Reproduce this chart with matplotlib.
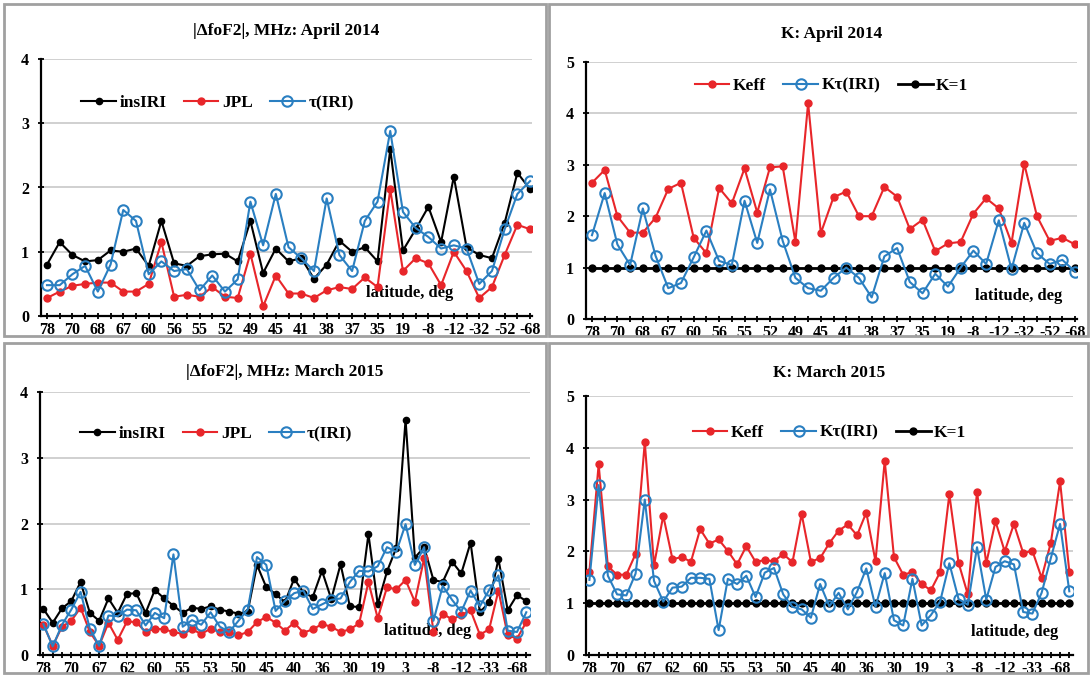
import matplotlib
matplotlib.use("Agg")
import matplotlib.pyplot as plt
from matplotlib.patches import Rectangle

W, H = 1091, 676
SERIF = ['Liberation Serif', 'DejaVu Serif']

top_labels = ['78', '70', '68', '67', '60', '56', '55', '52', '49', '45', '41', '38', '37', '35', '19', '-8', '-12', '-32', '-52', '-68']
bot_labels = ['78', '70', '67', '62', '60', '55', '53', '50', '45', '40', '36', '30', '19', '3', '-8', '-12', '-33', '-68']

# April 2014 |dfoF2|
a14_insIRI = [0.8, 1.15, 0.95, 0.85, 0.87, 1.02, 1.0, 1.05, 0.78, 1.48, 0.82, 0.78, 0.93, 0.96, 0.97, 0.85, 1.48, 0.67, 1.05, 0.85,
              0.9, 0.58, 0.8, 1.17, 1.0, 1.07, 0.85, 2.6, 1.02, 1.35, 1.7, 1.15, 2.17, 1.07, 0.95, 0.9, 1.45, 2.23, 1.97]
a14_JPL = [0.28, 0.38, 0.47, 0.5, 0.52, 0.52, 0.38, 0.38, 0.5, 1.15, 0.3, 0.33, 0.3, 0.45, 0.3, 0.28, 0.97, 0.15, 0.63, 0.35,
           0.35, 0.28, 0.4, 0.45, 0.42, 0.6, 0.45, 1.97, 0.7, 0.9, 0.82, 0.48, 1.0, 0.7, 0.28, 0.45, 0.95, 1.42, 1.35]
a14_tau = [0.48, 0.48, 0.65, 0.78, 0.38, 0.8, 1.65, 1.48, 0.65, 0.85, 0.7, 0.73, 0.4, 0.63, 0.38, 0.57, 1.78, 1.1, 1.9, 1.07,
           0.9, 0.7, 1.83, 0.95, 0.7, 1.48, 1.78, 2.88, 1.62, 1.37, 1.23, 1.05, 1.1, 1.05, 0.5, 0.7, 1.35, 1.9, 2.1]
# April 2014 K
a14_Keff = [2.65, 2.9, 2.0, 1.68, 1.68, 1.97, 2.53, 2.65, 1.58, 1.28, 2.55, 2.25, 2.93, 2.07, 2.95, 2.97, 1.5, 4.2, 1.67, 2.37,
            2.48, 2.0, 2.0, 2.57, 2.38, 1.75, 1.93, 1.32, 1.47, 1.5, 2.05, 2.35, 2.15, 1.48, 3.02, 2.0, 1.52, 1.58, 1.45]
a14_Ktau = [1.63, 2.45, 1.45, 1.05, 2.15, 1.23, 0.6, 0.7, 1.2, 1.72, 1.13, 1.05, 2.3, 1.48, 2.52, 1.52, 0.8, 0.6, 0.55, 0.8,
            1.0, 0.8, 0.42, 1.22, 1.38, 0.72, 0.5, 0.88, 0.63, 1.0, 1.33, 1.07, 1.92, 0.97, 1.87, 1.28, 1.07, 1.15, 0.92]

# March 2015 |dfoF2|
m15_insIRI = [0.7, 0.49, 0.71, 0.82, 1.11, 0.64, 0.52, 0.86, 0.64, 0.93, 0.94, 0.64, 0.99, 0.86, 0.75, 0.64, 0.72, 0.7, 0.74, 0.69,
              0.66, 0.63, 0.66, 1.37, 1.03, 0.93, 0.8, 1.16, 0.95, 0.88, 1.28, 0.85, 1.38, 0.74, 0.73, 1.84, 0.77, 1.27, 1.63, 3.58,
              1.48, 1.64, 1.14, 1.11, 1.42, 1.24, 1.71, 0.65, 0.8, 1.46, 0.68, 0.91, 0.82]
m15_JPL = [0.46, 0.14, 0.43, 0.52, 0.72, 0.35, 0.14, 0.49, 0.23, 0.51, 0.5, 0.35, 0.4, 0.39, 0.35, 0.32, 0.39, 0.32, 0.4, 0.35,
           0.35, 0.3, 0.35, 0.5, 0.58, 0.49, 0.37, 0.49, 0.34, 0.39, 0.47, 0.43, 0.35, 0.39, 0.48, 1.11, 0.56, 1.03, 1.0, 1.14,
           0.81, 1.47, 0.35, 0.63, 0.54, 0.61, 0.68, 0.31, 0.39, 0.98, 0.3, 0.25, 0.5]
m15_tau = [0.47, 0.13, 0.46, 0.69, 0.96, 0.4, 0.14, 0.6, 0.59, 0.69, 0.68, 0.45, 0.64, 0.56, 1.53, 0.43, 0.53, 0.46, 0.65, 0.43,
           0.35, 0.52, 0.69, 1.49, 1.37, 0.67, 0.82, 0.94, 0.98, 0.7, 0.77, 0.84, 0.86, 1.11, 1.28, 1.27, 1.35, 1.64, 1.57, 1.99,
           1.37, 1.64, 0.52, 1.05, 0.84, 0.66, 0.98, 0.74, 0.99, 1.21, 0.37, 0.35, 0.65]
# March 2015 K
m15_Keff = [1.61, 3.68, 1.71, 1.55, 1.55, 1.95, 4.11, 1.73, 2.69, 1.85, 1.89, 1.8, 2.43, 2.15, 2.23, 2.01, 1.75, 2.1, 1.8, 1.83,
            1.81, 1.95, 1.79, 2.72, 1.8, 1.87, 2.16, 2.4, 2.52, 2.31, 2.75, 1.81, 3.75, 1.89, 1.55, 1.6, 1.37, 1.25, 1.6, 3.1,
            1.78, 1.17, 3.15, 1.77, 2.58, 2.0, 2.53, 1.97, 2.01, 1.49, 2.17, 3.35, 1.61]
m15_Ktau = [1.45, 3.28, 1.53, 1.17, 1.15, 1.57, 3.0, 1.43, 1.03, 1.3, 1.32, 1.49, 1.49, 1.47, 0.48, 1.47, 1.37, 1.53, 1.12, 1.59,
            1.68, 1.17, 0.93, 0.88, 0.72, 1.37, 0.94, 1.2, 0.88, 1.22, 1.67, 0.93, 1.58, 0.67, 0.57, 1.47, 0.57, 0.77, 1.03, 1.77,
            1.08, 0.97, 2.08, 1.07, 1.7, 1.81, 1.75, 0.83, 0.8, 1.2, 1.87, 2.53, 1.23]

BLACK, RED, BLUE = '#000000', '#e8262a', '#2a7fc1'

fig = plt.figure(figsize=(W / 100, H / 100), dpi=100)
fig.patch.set_facecolor('white')

for (x0, y0, x1, y1) in [(4, 4, 546, 336), (549, 4, 1088, 336), (4, 343, 546, 673), (549, 343, 1088, 673)]:
    fig.add_artist(Rectangle((x0 / W, 1 - y1 / H), (x1 - x0) / W, (y1 - y0) / H,
                             transform=fig.transFigure, fill=False, ec='#a0a0a0', lw=2))


def make_ax(px):
    x0, ytop, x1, ybot = px
    return fig.add_axes([x0 / W, 1 - ybot / H, (x1 - x0) / W, (ybot - ytop) / H])


def style(ax, n, labels, step, ymax, xlim, title, title_y, lat_x):
    ax.set_xlim(*xlim)
    ax.set_ylim(0, ymax)
    ax.set_yticks(range(0, ymax + 1))
    ax.set_xticks(range(n), minor=True)
    ax.set_xticks(range(0, n, step))
    ax.set_xticklabels(labels)
    for s in ['top', 'right']:
        ax.spines[s].set_visible(False)
    for s in ['left', 'bottom']:
        ax.spines[s].set_linewidth(1.6)
    ax.grid(axis='y', color='#c8c8c8', lw=1.2)
    ax.set_axisbelow(True)
    ax.tick_params(axis='x', which='both', direction='inout', length=5, width=1.3, pad=1.5)
    ax.tick_params(axis='y', direction='inout', length=5, width=1.3, pad=6)
    for lab in ax.get_xticklabels() + ax.get_yticklabels():
        lab.set_fontfamily(SERIF)
        lab.set_fontweight('bold')
        lab.set_fontsize(11.5)
    ax.set_title(title, family=SERIF, fontweight='bold', fontsize=12.5, y=title_y)
    ax.text(lat_x, 0.09, 'latitude, deg', transform=ax.transAxes, ha='right', va='center',
            family=SERIF, fontweight='bold', fontsize=12)


def plot_f(ax, x, ins, jpl, tau):
    ax.plot(x, ins, color=BLACK, lw=1.5, marker='o', ms=4.5, label='insIRI', zorder=3)
    ax.plot(x, jpl, color=RED, lw=1.5, marker='o', ms=5, label='JPL', zorder=4)
    ax.plot(x, tau, color=BLUE, lw=1.5, marker='o', ms=7.5, mfc='none', mew=1.5, label='τ(IRI)', zorder=5)


def plot_k(ax, x, keff, ktau):
    ax.plot(x, keff, color=RED, lw=1.5, marker='o', ms=5, label='Keff', zorder=4)
    ax.plot(x, ktau, color=BLUE, lw=1.5, marker='o', ms=7.5, mfc='none', mew=1.5, label='Kτ(IRI)', zorder=5)
    ax.plot(x, [1] * len(x), color=BLACK, lw=2, marker='o', ms=5, label='K=1', zorder=3)


def legend(ax, loc, anchor):
    ax.legend(loc=loc, bbox_to_anchor=anchor, ncol=3, frameon=False, handlelength=2.0,
              columnspacing=1.0, handletextpad=0.2, prop={'family': SERIF, 'weight': 'bold', 'size': 12.5})


xt = list(range(len(a14_insIRI)))
xb = list(range(len(m15_insIRI)))

ax1 = make_ax((41, 59, 532, 316))
plot_f(ax1, xt, a14_insIRI, a14_JPL, a14_tau)
style(ax1, len(xt), top_labels, 2, 4, (-0.47, 38.15), '|ΔfoF2|, MHz: April 2014', 1.06, 0.84)
legend(ax1, 'upper left', (0.05, 0.92))

ax2 = make_ax((586, 62, 1077, 319))
plot_k(ax2, xt, a14_Keff, a14_Ktau)
style(ax2, len(xt), top_labels, 2, 5, (-0.47, 38.15), 'K: April 2014', 1.06, 0.97)
legend(ax2, 'upper center', (0.5, 1.0))

ax3 = make_ax((40, 392, 530, 655))
plot_f(ax3, xb, m15_insIRI, m15_JPL, m15_tau)
style(ax3, len(xb), bot_labels, 3, 4, (-0.37, 52.4), '|ΔfoF2|, MHz: March 2015', 1.03, 0.88)
legend(ax3, 'upper left', (0.05, 0.93))

ax4 = make_ax((586, 396, 1073, 655))
plot_k(ax4, xb, m15_Keff, m15_Ktau)
style(ax4, len(xb), bot_labels, 3, 5, (-0.37, 52.4), 'K: March 2015', 1.04, 0.97)
legend(ax4, 'upper center', (0.5, 0.95))

fig.savefig('out.png', dpi=100)
